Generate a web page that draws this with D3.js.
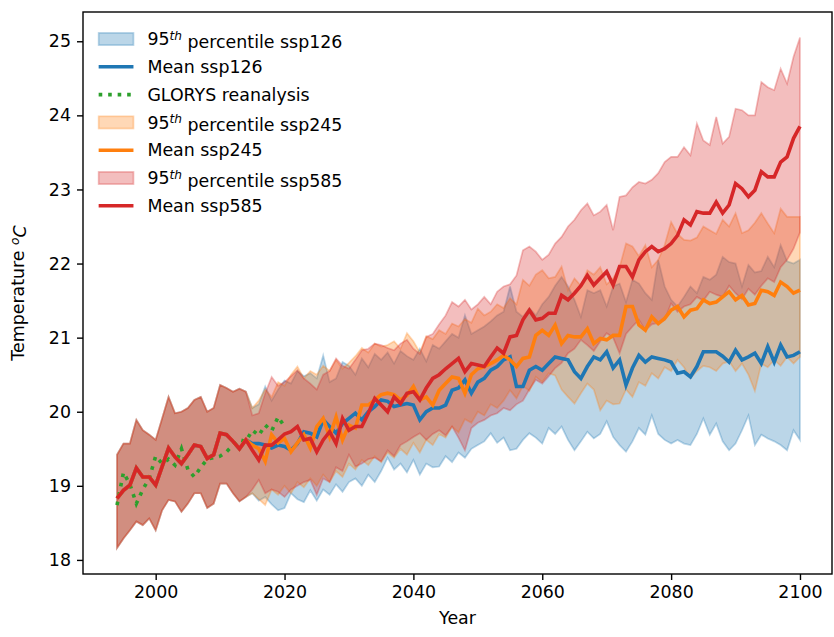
<!DOCTYPE html>
<html>
<head>
<meta charset="utf-8">
<script src="https://cdn.jsdelivr.net/npm/d3@7/dist/d3.min.js"></script>
<style>
  body { margin: 0; background: #fff; overflow: hidden; }
  svg { font-family: "DejaVu Sans", sans-serif; display: block; }
</style>
</head>
<body>
<div id="chart"></div>
<script>
// ---- data ----
const histStart = 1994; // shared historical run 1994-2014
const obsStart = 1994;  // GLORYS 1994-2020

const histMean = [18.83, 18.94, 19.01, 19.24, 19.12, 19.12, 19.01, 19.26, 19.51, 19.39,
  19.30, 19.42, 19.55, 19.53, 19.37, 19.42, 19.71, 19.69, 19.60, 19.50, 19.62];
const histUpper = [19.42, 19.57, 19.57, 19.89, 19.75, 19.69, 19.62, 19.91, 20.20, 19.98,
  20.00, 20.05, 20.16, 20.20, 20.00, 20.05, 20.36, 20.32, 20.27, 20.31, 20.27];
const histLower = [18.16, 18.29, 18.40, 18.52, 18.47, 18.56, 18.40, 18.67, 18.81, 18.79,
  18.65, 18.76, 18.90, 18.90, 18.70, 18.76, 19.03, 19.03, 18.90, 18.79, 18.85];

const glorys = [18.74, 19.18, 19.02, 18.76, 18.95, 19.10, 19.40, 19.30, 19.36, 19.28,
  19.50, 19.22, 19.12, 19.25, 19.36, 19.38, 19.40, 19.46, 19.55, 19.62,
  19.60, 19.75, 19.68, 19.82, 19.74, 19.93, 19.80];

// scenarios, 2015-2100
const ssp126Mean = [
  19.57, 19.57, 19.55, 19.51, 19.55, 19.53, 19.48, 19.57, 19.73, 19.71,
  19.66, 19.89, 19.80, 19.71, 19.84, 19.91, 19.98, 19.89, 20.00, 20.07,
  20.16, 20.14, 20.07, 20.09, 20.11, 20.09, 19.89, 20.00, 20.05, 20.05,
  20.09, 20.29, 20.32, 20.43, 20.25, 20.40, 20.45, 20.56, 20.61, 20.70,
  20.74, 20.34, 20.34, 20.56, 20.61, 20.56, 20.65, 20.74, 20.72, 20.70,
  20.54, 20.45, 20.61, 20.74, 20.70, 20.81, 20.59, 20.70, 20.36, 20.59,
  20.76, 20.67, 20.74, 20.72, 20.70, 20.67, 20.52, 20.54, 20.47, 20.61,
  20.81, 20.81, 20.81, 20.75, 20.67, 20.83, 20.70, 20.74, 20.79, 20.65,
  20.88, 20.67, 20.90, 20.74, 20.76, 20.81];
const ssp126Upper = [
  20.05, 20.10, 20.34, 20.15, 20.30, 20.42, 20.38, 20.55, 20.48, 20.52,
  20.45, 20.76, 20.40, 20.45, 20.67, 20.62, 20.50, 20.72, 20.60, 20.78,
  20.70, 20.80, 20.65, 20.82, 20.75, 20.70, 20.85, 20.68, 20.90, 20.85,
  20.95, 21.05, 21.00, 21.30, 21.05, 21.10, 21.15, 21.22, 21.30, 21.35,
  21.69, 21.35, 21.28, 21.40, 21.30, 21.45, 21.55, 21.70, 21.82, 21.69,
  21.51, 21.28, 21.64, 21.60, 21.64, 21.42, 21.69, 21.73, 21.48, 21.78,
  21.73, 21.60, 21.51, 22.05, 21.69, 21.51, 21.42, 21.55, 21.69, 21.60,
  21.82, 21.78, 21.85, 22.09, 22.02, 22.00, 21.69, 21.98, 21.88, 21.90,
  22.09, 21.95, 22.25, 22.03, 22.00, 22.05];
const ssp126Lower = [
  18.90, 18.80, 18.85, 18.75, 18.67, 18.70, 18.90, 18.82, 18.78, 18.94,
  18.80, 18.95, 18.88, 19.02, 18.92, 19.05, 19.10, 19.00, 19.15, 19.05,
  19.20, 19.38, 19.22, 19.30, 19.18, 19.35, 19.15, 19.30, 19.25, 19.26,
  19.40, 19.32, 19.45, 19.38, 19.50, 19.55, 19.60, 19.71, 19.58, 19.65,
  19.48, 19.50, 19.62, 19.71, 19.65, 19.57, 19.78, 19.70, 19.80, 19.62,
  19.48, 19.60, 19.73, 19.64, 19.70, 19.87, 19.66, 19.55, 19.46, 19.60,
  19.78, 19.69, 19.95, 19.70, 19.62, 19.57, 19.62, 19.57, 19.55, 19.70,
  19.91, 19.69, 19.84, 19.60, 19.48, 19.57, 19.75, 19.95, 19.55, 19.69,
  19.64, 19.60, 19.55, 19.48, 19.75, 19.62];

const ssp245Mean = [
  19.55, 19.50, 19.33, 19.69, 19.58, 19.64, 19.46, 19.58, 19.69, 19.51,
  19.80, 19.91, 19.66, 19.93, 19.62, 19.82, 19.78, 20.09, 20.09, 20.16,
  20.23, 20.25, 20.23, 20.16, 20.22, 20.34, 20.16, 20.20, 20.09, 20.29,
  20.38, 20.47, 20.45, 20.25, 20.50, 20.58, 20.61, 20.65, 20.70, 20.76,
  20.70, 20.61, 20.72, 20.74, 21.03, 21.10, 21.03, 21.17, 20.92, 21.03,
  21.01, 21.01, 21.12, 20.92, 20.99, 20.97, 21.03, 21.03, 21.42, 21.42,
  21.17, 21.10, 21.28, 21.19, 21.26, 21.37, 21.42, 21.28, 21.37, 21.39,
  21.51, 21.46, 21.48, 21.55, 21.62, 21.51, 21.57, 21.44, 21.46, 21.64,
  21.62, 21.57, 21.75, 21.69, 21.60, 21.64];
const ssp245Upper = [
  20.05, 20.15, 20.30, 20.20, 20.40, 20.35, 20.50, 20.61, 20.45, 20.55,
  20.50, 20.62, 20.55, 20.70, 20.58, 20.66, 20.75, 20.86, 20.80, 20.92,
  20.88, 20.90, 20.95, 20.85, 21.06, 20.95, 20.80, 21.02, 20.98, 21.10,
  21.05, 21.19, 21.15, 21.25, 21.20, 21.39, 21.30, 21.35, 21.45, 21.40,
  21.53, 21.45, 21.78, 21.70, 21.85, 21.91, 21.80, 21.82, 21.96, 21.64,
  21.80, 21.70, 21.91, 21.85, 21.95, 21.72, 21.80, 21.95, 22.27, 22.23,
  22.10, 22.25, 21.95, 22.05, 22.25, 22.56, 22.40, 22.32, 22.31, 22.35,
  22.50, 22.45, 22.40, 22.59, 22.50, 22.68, 22.41, 22.45, 22.55, 22.68,
  22.54, 22.41, 22.74, 22.63, 22.63, 22.63];
const ssp245Lower = [
  18.90, 18.82, 18.74, 18.95, 18.88, 19.00, 18.90, 19.05, 18.98, 19.10,
  19.00, 19.15, 19.05, 19.20, 19.12, 19.30, 19.22, 19.35, 19.28, 19.40,
  19.32, 19.45, 19.38, 19.50, 19.42, 19.58, 19.45, 19.62, 19.55, 19.70,
  19.65, 19.80, 19.72, 19.90, 19.85, 20.00, 19.95, 20.10, 20.05, 20.15,
  20.29, 20.18, 20.35, 20.28, 20.47, 20.40, 20.52, 20.49, 20.30, 20.20,
  20.11, 20.25, 20.38, 20.30, 20.02, 20.15, 20.10, 20.11, 20.30, 20.20,
  20.40, 20.35, 20.52, 20.45, 20.60, 20.55, 20.70, 20.60, 20.45, 20.55,
  20.62, 20.60, 20.55, 20.65, 20.68, 20.55, 20.65, 20.50, 20.28, 20.65,
  20.60, 20.70, 20.62, 20.74, 20.65, 20.74];

const ssp585Mean = [
  19.48, 19.35, 19.55, 19.55, 19.62, 19.70, 19.73, 19.80, 19.62, 19.64,
  19.46, 19.62, 19.73, 19.57, 19.91, 19.75, 19.80, 19.80, 19.98, 20.18,
  20.09, 20.00, 20.20, 20.11, 20.25, 20.27, 20.16, 20.32, 20.45, 20.50,
  20.58, 20.65, 20.72, 20.54, 20.65, 20.63, 20.61, 20.74, 20.86, 20.79,
  21.01, 21.03, 21.24, 21.37, 21.24, 21.26, 21.33, 21.33, 21.57, 21.51,
  21.60, 21.70, 21.84, 21.71, 21.80, 21.89, 21.71, 21.96, 21.96, 21.82,
  22.05, 22.16, 22.23, 22.16, 22.20, 22.27, 22.38, 22.59, 22.52, 22.70,
  22.68, 22.68, 22.83, 22.68, 22.79, 23.08, 23.01, 22.90, 22.99, 23.24,
  23.17, 23.17, 23.37, 23.44, 23.69, 23.85];
const ssp585Upper = [
  19.95, 19.98, 20.25, 20.47, 20.35, 20.40, 20.48, 20.56, 20.45, 20.38,
  20.30, 20.50, 20.55, 20.72, 20.62, 20.58, 20.70, 20.83, 20.85, 20.92,
  20.90, 20.86, 20.83, 20.92, 20.97, 20.85, 20.78, 21.01, 21.05, 21.18,
  21.30, 21.48, 21.42, 21.51, 21.38, 21.45, 21.55, 21.45, 21.62, 21.69,
  21.72, 21.84, 22.18, 22.23, 22.16, 22.05, 22.12, 22.27, 22.36, 22.50,
  22.59, 22.72, 22.81, 22.65, 22.70, 22.79, 22.45, 22.90, 22.92, 23.03,
  23.10, 23.08, 23.13, 23.22, 23.37, 23.44, 23.44, 23.57, 23.46, 23.89,
  23.66, 23.60, 23.98, 23.62, 23.71, 24.09, 24.07, 24.00, 24.00, 24.45,
  24.38, 24.34, 24.63, 24.43, 24.79, 25.05];
const ssp585Lower = [
  18.95, 19.08, 18.90, 18.95, 18.92, 18.85, 18.95, 19.00, 19.05, 19.08,
  18.88, 19.10, 19.05, 19.25, 19.20, 19.42, 19.26, 19.30, 19.36, 19.38,
  19.33, 19.48, 19.40, 19.55, 19.60, 19.66, 19.71, 19.62, 19.70, 19.75,
  19.68, 19.80, 19.65, 19.48, 19.78, 19.85, 19.89, 19.95, 19.98, 20.05,
  20.02, 20.10, 20.15, 20.30, 20.43, 20.38, 20.48, 20.59, 20.66, 20.79,
  20.85, 20.97, 20.90, 20.82, 20.95, 21.06, 21.00, 20.79, 21.05, 21.15,
  21.24, 21.10, 21.18, 21.20, 21.24, 21.46, 21.35, 21.42, 21.45, 21.55,
  21.50, 21.62, 21.58, 21.55, 21.70, 21.60, 21.52, 21.66, 21.58, 21.70,
  21.80, 21.75, 21.95, 22.05, 22.20, 22.42];

const xTicks = [2000, 2020, 2040, 2060, 2080, 2100];
const yTicks = [18, 19, 20, 21, 22, 23, 24, 25];

// matplotlib tab10 colours
const colors = { ssp126: "#1f77b4", obs: "#2ca02c", ssp245: "#ff7f0e", ssp585: "#d62728" };

// ---- build series (historical run joined to each scenario) ----
function toPoints(start, values) {
  return values.map((v, i) => ({ year: start + i, v }));
}
function scenario(mean, upper, lower) {
  const m = histMean.concat(mean);
  const u = histUpper.concat(upper);
  const l = histLower.concat(lower);
  return {
    mean: toPoints(histStart, m),
    band: u.map((v, i) => ({ year: histStart + i, hi: v, lo: l[i] })),
  };
}
const s126 = scenario(ssp126Mean, ssp126Upper, ssp126Lower);
const s245 = scenario(ssp245Mean, ssp245Upper, ssp245Lower);
const s585 = scenario(ssp585Mean, ssp585Upper, ssp585Lower);
const obs = toPoints(obsStart, glorys);

// ---- layout ----
const props = {
  width: 834, height: 637,
  left: 83, top: 12,
  plotWidth: 749, plotHeight: 562,
  fontSize: 17.4,
  xLim: [1988.72, 2104.97],
  yLim: [17.81, 25.395],
};
const width = props.plotWidth;
const height = props.plotHeight;

const svg = d3.select("#chart").append("svg")
  .attr("width", props.width).attr("height", props.height);
const g = svg.append("g").attr("transform", `translate(${props.left},${props.top})`);

const x = d3.scaleLinear().domain(props.xLim).range([0, width]);
const y = d3.scaleLinear().domain(props.yLim).range([height, 0]);

svg.append("clipPath").attr("id", "plotclip")
  .append("rect").attr("width", width).attr("height", height);
const plot = g.append("g").attr("clip-path", "url(#plotclip)");

const area = d3.area().x((d) => x(d.year)).y0((d) => y(d.lo)).y1((d) => y(d.hi));
const line = d3.line().x((d) => x(d.year)).y((d) => y(d.v));

// bands (alpha 0.3 face + edge, like fill_between)
[[s126, colors.ssp126], [s245, colors.ssp245], [s585, colors.ssp585]].forEach(([s, c]) => {
  plot.append("path")
    .datum(s.band)
    .attr("d", area)
    .style("fill", c).style("fill-opacity", 0.3)
    .style("stroke", c).style("stroke-opacity", 0.3)
    .style("stroke-width", 1.7);
});

// mean lines + reanalysis
plot.append("path").datum(s126.mean).attr("d", line)
  .style("fill", "none").style("stroke", colors.ssp126).style("stroke-width", 3.6);
plot.append("path").datum(obs).attr("d", line)
  .style("fill", "none").style("stroke", colors.obs).style("stroke-width", 3.6)
  .style("stroke-dasharray", "3.6,5.9");
plot.append("path").datum(s245.mean).attr("d", line)
  .style("fill", "none").style("stroke", colors.ssp245).style("stroke-width", 3.6);
plot.append("path").datum(s585.mean).attr("d", line)
  .style("fill", "none").style("stroke", colors.ssp585).style("stroke-width", 3.6);

// ---- axes ----
const xAxis = d3.axisBottom(x).tickValues(xTicks).tickFormat(d3.format("d"))
  .tickSize(6).tickPadding(6).tickSizeOuter(0);
const yAxis = d3.axisLeft(y).tickValues(yTicks).tickSize(6).tickPadding(6).tickSizeOuter(0);

const gx = g.append("g").attr("transform", `translate(0,${height})`).call(xAxis);
const gy = g.append("g").call(yAxis);
[gx, gy].forEach((a) => {
  a.select(".domain").remove();
  a.selectAll("line").style("stroke", "#000").style("stroke-width", 1.4);
  a.selectAll("text").style("font-size", `${props.fontSize}px`)
    .style("font-family", '"DejaVu Sans", sans-serif').style("fill", "#000");
});

// frame
g.append("rect").attr("width", width).attr("height", height)
  .style("fill", "none").style("stroke", "#000").style("stroke-width", 1.4);

// axis labels
g.append("text")
  .attr("x", width / 2).attr("y", height + 49.5)
  .style("text-anchor", "middle").style("font-size", `${props.fontSize}px`)
  .text("Year");

const yl = g.append("text")
  .attr("transform", `translate(${18 - props.left},${height / 2}) rotate(-90)`)
  .attr("dy", "0.35em")
  .style("text-anchor", "middle").style("font-size", `${props.fontSize}px`);
yl.append("tspan").text("Temperature ");
yl.append("tspan").attr("dy", "-0.45em").style("font-size", "70%").style("font-style", "italic").text("o");
yl.append("tspan").attr("dy", "0.45em").style("font-style", "italic").text("C");

// ---- legend ----
const legendItems = [
  { kind: "band", color: colors.ssp126, sup: true, label: " percentile ssp126" },
  { kind: "line", color: colors.ssp126, label: "Mean ssp126" },
  { kind: "dots", color: colors.obs, label: "GLORYS reanalysis" },
  { kind: "band", color: colors.ssp245, sup: true, label: " percentile ssp245" },
  { kind: "line", color: colors.ssp245, label: "Mean ssp245" },
  { kind: "band", color: colors.ssp585, sup: true, label: " percentile ssp585" },
  { kind: "line", color: colors.ssp585, label: "Mean ssp585" },
];
const fs = props.fontSize;
const handleX = fs * 0.9;       // borderaxespad + borderpad
const handleLen = fs * 2;
const rowStep = 27.8;
const legend = g.selectAll(".legend")
  .data(legendItems)
  .join("g")
  .attr("class", "legend")
  .attr("transform", (d, i) => `translate(${handleX},${39 - props.top + i * rowStep})`);

legend.filter((d) => d.kind === "band").append("rect")
  .attr("x", 0).attr("y", -6.1).attr("width", handleLen).attr("height", 12.2)
  .style("fill", (d) => d.color).style("fill-opacity", 0.3)
  .style("stroke", (d) => d.color).style("stroke-opacity", 0.3).style("stroke-width", 1.7);
legend.filter((d) => d.kind !== "band").append("line")
  .attr("x1", 0).attr("x2", handleLen).attr("y1", 0).attr("y2", 0)
  .style("stroke", (d) => d.color).style("stroke-width", 3.6)
  .style("stroke-dasharray", (d) => (d.kind === "dots" ? "3.6,5.9" : null));

const lt = legend.append("text")
  .attr("x", handleLen + fs * 0.8).attr("dy", "0.36em")
  .style("font-size", `${fs}px`);
lt.each(function (d) {
  const t = d3.select(this);
  if (d.sup) {
    t.append("tspan").text("95");
    t.append("tspan").attr("dy", "-0.45em").style("font-size", "70%").style("font-style", "italic").text("th");
    t.append("tspan").attr("dy", "0.45em").text(d.label);
  } else {
    t.text(d.label);
  }
});
</script>
</body>
</html>
